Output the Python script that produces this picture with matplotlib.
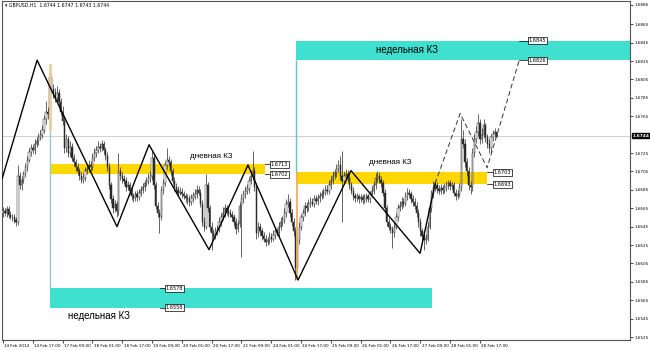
import matplotlib
matplotlib.use("Agg")
import matplotlib.pyplot as plt
from matplotlib.patches import Rectangle
import matplotlib.transforms as mtransforms

# GBPUSD H1, 14-28 Feb 2014; prices in pips above 1.6500
opens = [160, 162, 160, 164, 158, 156, 155, 152, 150, 200,
         190, 196, 202, 210, 218, 226, 230, 228, 235, 238,
         242, 245, 250, 262, 270, 268, 308, 295, 290, 285,
         290, 280, 270, 260, 230, 240, 225, 232, 220, 215,
         210, 205, 200, 196, 198, 205, 208, 212, 210, 220,
         225, 228, 232, 230, 235, 228, 222, 210, 190, 175,
         165, 170, 162, 205, 200, 197, 195, 188, 190, 184,
         178, 176, 180, 177, 182, 185, 188, 192, 195, 198,
         200, 220, 190, 168, 160, 155, 185, 192, 212, 218,
         215, 205, 195, 188, 185, 182, 183, 180, 178, 176,
         175, 172, 176, 178, 180, 185, 182, 170, 150, 145,
         190, 165, 145, 138, 135, 140, 142, 150, 155, 160,
         165, 162, 160, 158, 155, 150, 142, 148, 168, 175,
         180, 184, 186, 195, 200, 205, 188, 138, 145, 140,
         135, 132, 128, 130, 134, 132, 136, 140, 138, 145,
         150, 152, 160, 170, 172, 160, 150, 140, 100, 130,
         145, 155, 160, 168, 165, 170, 172, 170, 175, 173,
         176, 178, 180, 182, 185, 184, 190, 195, 200, 203,
         208, 212, 200, 195, 200, 202, 198, 190, 184, 178,
         176, 178, 175, 177, 174, 176, 178, 175, 180, 184,
         190, 198, 200, 196, 192, 182, 165, 150, 145, 142,
         138, 145, 155, 165, 168, 172, 170, 178, 182, 180,
         175, 172, 168, 160, 150, 140, 135, 130, 132, 145,
         165, 180, 188, 190, 186, 184, 187, 185, 188, 190,
         192, 189, 190, 182, 178, 180, 188, 240, 235, 215,
         205, 190, 188, 225, 240, 248, 258, 240, 245, 255,
         242, 235, 230, 242, 246, 248]
highs = [166, 165, 168, 167, 162, 159, 159, 155, 212, 204,
         200, 206, 214, 222, 230, 235, 234, 240, 243, 247,
         250, 256, 266, 282, 275, 322, 312, 300, 296, 298,
         295, 285, 276, 265, 246, 244, 238, 236, 224, 219,
         214, 209, 204, 203, 210, 213, 217, 216, 225, 231,
         233, 238, 236, 239, 238, 232, 226, 214, 194, 179,
         174, 173, 225, 210, 204, 201, 199, 195, 194, 188,
         182, 184, 185, 186, 189, 192, 196, 199, 203, 205,
         228, 224, 194, 172, 164, 189, 197, 216, 230, 222,
         219, 209, 199, 192, 189, 188, 187, 184, 182, 180,
         179, 181, 183, 186, 190, 189, 186, 174, 156, 202,
         194, 169, 150, 143, 145, 147, 155, 160, 166, 170,
         169, 166, 164, 162, 159, 154, 152, 172, 180, 185,
         189, 191, 199, 206, 227, 210, 192, 150, 149, 144,
         139, 136, 134, 139, 138, 141, 145, 144, 150, 155,
         157, 165, 175, 180, 176, 164, 154, 145, 135, 150,
         159, 164, 172, 172, 175, 177, 176, 179, 179, 181,
         183, 185, 187, 190, 190, 196, 200, 205, 208, 213,
         217, 222, 227, 205, 208, 207, 202, 194, 188, 182,
         182, 181, 181, 180, 180, 182, 181, 184, 189, 195,
         203, 206, 204, 200, 196, 186, 169, 154, 149, 146,
         150, 160, 170, 173, 177, 176, 183, 187, 186, 184,
         179, 176, 172, 164, 154, 144, 139, 137, 150, 170,
         185, 195, 196, 194, 190, 191, 190, 193, 195, 196,
         196, 194, 194, 186, 185, 193, 262, 250, 240, 220,
         210, 195, 230, 246, 254, 268, 262, 252, 262, 258,
         246, 240, 246, 250, 252, 247]
lows = [156, 157, 156, 154, 153, 151, 149, 146, 147, 186,
        185, 192, 199, 206, 215, 222, 225, 224, 232, 234,
        239, 241, 247, 257, 262, 264, 290, 285, 281, 281,
        275, 266, 255, 225, 226, 221, 222, 216, 211, 206,
        201, 196, 193, 192, 195, 202, 204, 206, 207, 216,
        221, 225, 226, 227, 224, 218, 206, 186, 171, 160,
        161, 156, 158, 196, 193, 191, 184, 185, 180, 174,
        172, 173, 173, 174, 178, 182, 184, 189, 191, 194,
        196, 186, 164, 156, 138, 152, 181, 189, 208, 211,
        201, 191, 184, 182, 178, 179, 176, 175, 172, 170,
        168, 169, 172, 175, 176, 179, 166, 146, 140, 142,
        161, 140, 120, 131, 132, 136, 139, 146, 152, 156,
        158, 156, 155, 151, 146, 137, 139, 145, 112, 171,
        176, 181, 182, 191, 196, 184, 132, 134, 136, 131,
        128, 124, 125, 126, 128, 129, 132, 135, 134, 141,
        146, 149, 156, 166, 156, 146, 135, 87, 95, 126,
        141, 151, 157, 161, 162, 166, 167, 166, 170, 169,
        172, 175, 176, 179, 180, 181, 186, 191, 197, 199,
        204, 196, 150, 191, 196, 194, 186, 180, 174, 172,
        173, 171, 172, 170, 171, 172, 172, 171, 177, 180,
        186, 194, 192, 188, 178, 161, 146, 141, 138, 122,
        134, 142, 151, 162, 164, 166, 167, 174, 177, 171,
        168, 164, 156, 145, 135, 130, 120, 126, 129, 142,
        161, 176, 184, 182, 180, 181, 181, 182, 184, 186,
        185, 186, 178, 174, 175, 177, 184, 230, 210, 200,
        185, 180, 184, 221, 236, 244, 235, 236, 241, 237,
        231, 225, 226, 238, 242, 243]
closes = [162, 160, 164, 158, 156, 155, 152, 150, 200, 190,
          196, 202, 210, 218, 226, 230, 228, 235, 238, 242,
          245, 250, 262, 270, 268, 308, 295, 290, 285, 290,
          280, 270, 260, 230, 240, 225, 232, 220, 215, 210,
          205, 200, 196, 198, 205, 208, 212, 210, 220, 225,
          228, 232, 230, 235, 228, 222, 210, 190, 175, 165,
          170, 162, 205, 200, 197, 195, 188, 190, 184, 178,
          176, 180, 177, 182, 185, 188, 192, 195, 198, 200,
          220, 190, 168, 160, 155, 185, 192, 212, 218, 215,
          205, 195, 188, 185, 182, 183, 180, 178, 176, 175,
          172, 176, 178, 180, 185, 182, 170, 150, 145, 190,
          165, 145, 138, 135, 140, 142, 150, 155, 160, 165,
          162, 160, 158, 155, 150, 142, 148, 168, 175, 180,
          184, 186, 195, 200, 205, 188, 138, 145, 140, 135,
          132, 128, 130, 134, 132, 136, 140, 138, 145, 150,
          152, 160, 170, 172, 160, 150, 140, 100, 130, 145,
          155, 160, 168, 165, 170, 172, 170, 175, 173, 176,
          178, 180, 182, 185, 184, 190, 195, 200, 203, 208,
          212, 200, 195, 200, 202, 198, 190, 184, 178, 176,
          178, 175, 177, 174, 176, 178, 175, 180, 184, 190,
          198, 200, 196, 192, 182, 165, 150, 145, 142, 138,
          145, 155, 165, 168, 172, 170, 178, 182, 180, 175,
          172, 168, 160, 150, 140, 135, 130, 132, 145, 165,
          180, 188, 190, 186, 184, 187, 185, 188, 190, 192,
          189, 190, 182, 178, 180, 188, 240, 235, 215, 205,
          190, 188, 225, 240, 248, 258, 240, 245, 255, 242,
          235, 230, 242, 246, 248, 244]

date_labels = ["14 Feb 2014", "14 Feb 17:00", "17 Feb 09:00", "18 Feb 01:00",
               "18 Feb 17:00", "19 Feb 09:00", "20 Feb 01:00", "20 Feb 17:00",
               "21 Feb 09:00", "24 Feb 01:00", "24 Feb 17:00", "25 Feb 09:00",
               "26 Feb 01:00", "26 Feb 17:00", "27 Feb 09:00", "28 Feb 01:00",
               "28 Feb 17:00"]
date_bars = [0, 16, 32, 48, 64, 80, 96, 112, 128, 144, 160, 176, 192, 208, 224, 240, 256]
price_ticks = [1.6886, 1.6865, 1.6845, 1.6825, 1.6805, 1.6785, 1.6765, 1.6725, 1.6705,
               1.6685, 1.6665, 1.6645, 1.6625, 1.6605, 1.6585, 1.6565, 1.6545, 1.6525]
last_price = 1.6744

# zigzag (solid) and forecast path (dashed)
zz_bars = [-0.5, 18.3, 61.2, 78.4, 110.6, 131.5, 158.4, 186.8, 223.9, 232]
zz_prices = [1.6697, 1.6826, 1.6645, 1.6734, 1.6620, 1.6712, 1.6587, 1.6706, 1.6616, 1.6692]
fc_bars = [232, 245.4, 259.9, 277]
fc_prices = [1.6692, 1.6768, 1.6709, 1.6825]

# zones: start bar, end bar, low, high
weekly_zones = [(157.3, 345, 1.6826, 1.6847), (25.2, 230.3, 1.6557, 1.6578)]
daily_zones = [(25.2, 140.7, 1.6702, 1.6713), (157.8, 259.9, 1.6691, 1.6704)]
# price labels: leader start bar, label bar, price, text
price_labels = [(140.7, 143.4, 1.6713, "1.6713"), (140.7, 143.4, 1.6702, "1.6702"),
                (259.9, 263.1, 1.6704, "1.6703"), (259.9, 263.1, 1.6691, "1.6693"),
                (84.3, 87.0, 1.6578, "1.6578"), (84.3, 87.0, 1.6557, "1.6558"),
                (277.0, 281.9, 1.6847, "1.6845"), (277.0, 281.9, 1.6826, "1.6826")]

fig = plt.figure(figsize=(6.5, 3.5), dpi=100)
ax = fig.add_axes([2 / 650, 10 / 350, 628 / 650, 339 / 350])
ax.set_xlim(-0.54, 336.6)
ax.set_ylim(1.65218, 1.68903)

for x0, x1, lo, hi in weekly_zones:
    ax.add_patch(Rectangle((x0, lo), x1 - x0, hi - lo, color="#40e0d0", lw=0, zorder=1))
for x0, x1, lo, hi in daily_zones:
    ax.add_patch(Rectangle((x0, lo), x1 - x0, hi - lo, color="#ffd700", lw=0, zorder=1))

ax.axhline(last_price, color="#c8c8c8", lw=0.6, zorder=1)

# weekly open markers
ax.vlines(25.2, 1.6578, 1.6750, color="#8fcfc6", lw=1.0, zorder=2)
ax.vlines(157.3, 1.6704, 1.6826, color="#5fc8bd", lw=1.0, zorder=2)

o = [1.65 + v / 10000 for v in opens]
h = [1.65 + v / 10000 for v in highs]
l = [1.65 + v / 10000 for v in lows]
c = [1.65 + v / 10000 for v in closes]
xs = list(range(len(c)))
ax.vlines(xs, l, h, color="#3a3a3a", lw=0.55, zorder=3)
body_col = ["white" if cc >= oo else "#2a2a2a" for oo, cc in zip(o, c)]
ax.bar(xs, [cc - oo for oo, cc in zip(o, c)], bottom=o, width=0.7,
       color=body_col, edgecolor="#2a2a2a", linewidth=0.35, zorder=4)

ax.vlines(25.2, 1.6750, 1.6822, color="#e8cf9c", lw=2.0, zorder=5)
ax.vlines(157.6, 1.6587, 1.6704, color="#f0a84a", lw=1.2, zorder=5)

ax.plot(zz_bars, zz_prices, color="black", lw=1.0, zorder=6)
ax.plot(fc_bars, fc_prices, color="#333333", lw=0.7, ls=(0, (5, 3)), zorder=6)

for x0, xb, p, t in price_labels:
    ax.plot([x0, xb], [p, p], color="black", lw=0.5, zorder=6)
    ax.text(xb + 0.3, p, t, fontsize=3.6, va="center", ha="left", zorder=7,
            bbox=dict(boxstyle="square,pad=0.2", fc="white", ec="black", lw=0.5))

ax.text(217, 1.68365, "недельная КЗ", fontsize=7, family="Liberation Sans",
        ha="center", va="center", zorder=7)
ax.text(35, 1.65475, "недельная КЗ", fontsize=7, family="Liberation Sans",
        ha="left", va="center", zorder=7)
ax.text(112, 1.6721, "дневная КЗ", fontsize=5.8, family="Liberation Sans",
        ha="center", va="center", zorder=7)
ax.text(208, 1.6715, "дневная КЗ", fontsize=5.8, family="Liberation Sans",
        ha="center", va="center", zorder=7)

ax.yaxis.tick_right()
ax.set_yticks(price_ticks)
ax.set_yticklabels([f"{p:.4f}" for p in price_ticks])
ax.set_xticks(date_bars)
ax.set_xticklabels(date_labels, ha="left")
ax.tick_params(axis="both", labelsize=3.0, length=2, width=0.5, pad=1.2, colors="black")
offset = mtransforms.ScaledTranslation(1.0 / 72, 0, fig.dpi_scale_trans)
for lab in ax.get_xticklabels():
    lab.set_transform(lab.get_transform() + offset)

for s in ax.spines.values():
    s.set_linewidth(0.8)
    s.set_color("#555555")

trans = mtransforms.blended_transform_factory(ax.transAxes, ax.transData)
ax.text(1.004, last_price, "1.6744", transform=trans, fontsize=3.2, color="white",
        va="center", ha="left", fontweight="bold",
        bbox=dict(boxstyle="square,pad=0.2", fc="black", ec="black"))

fig.text(5 / 650, 1 - 5 / 350, "\u25be GBPUSD,H1  1.6744 1.6747 1.6743 1.6744",
         fontsize=3.3, va="center", ha="left")

fig.savefig("out.png", dpi=100)
